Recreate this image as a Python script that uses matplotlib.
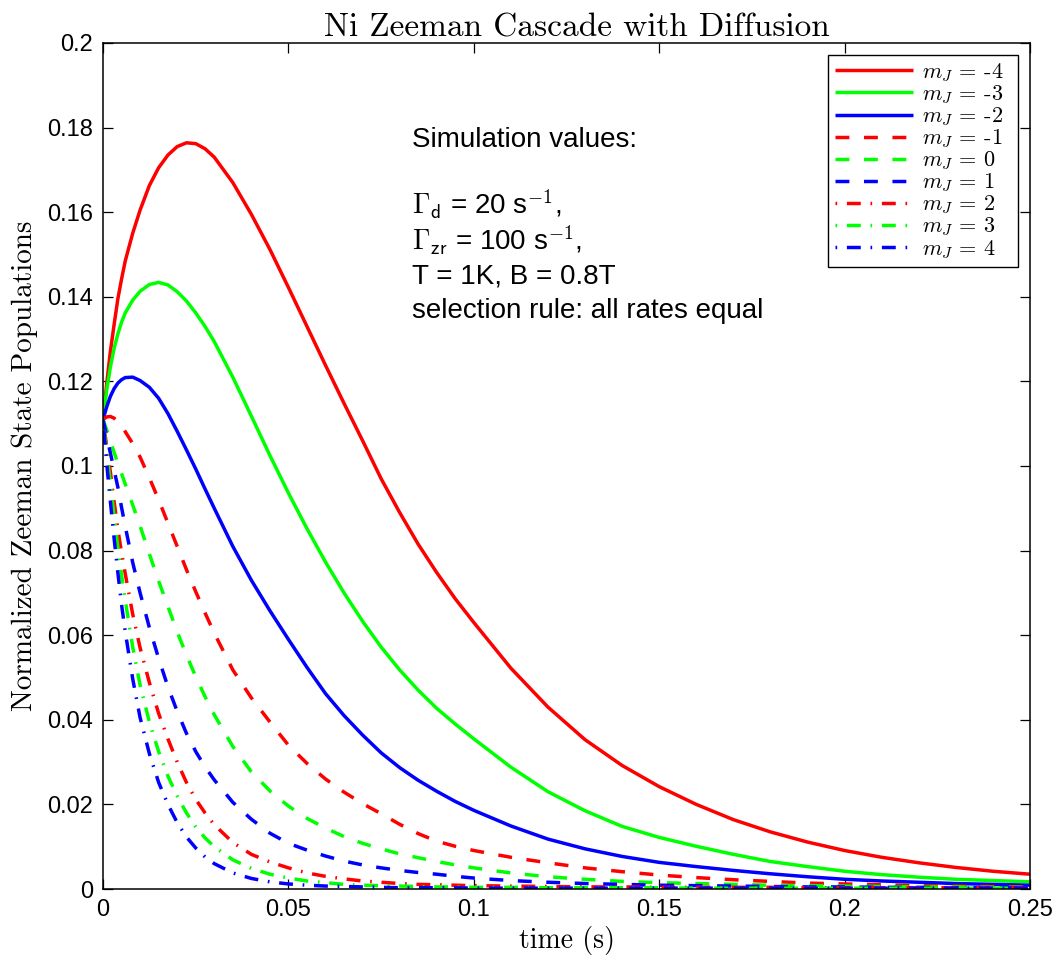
import numpy as np
import matplotlib
matplotlib.use('Agg')
import matplotlib.pyplot as plt
from matplotlib.ticker import FuncFormatter

plt.rcParams['mathtext.fontset'] = 'cm'
plt.rcParams['lines.scale_dashes'] = False

# time grid (s) and populations
t = [0, 0.001, 0.002, 0.003, 0.004, 0.005, 0.006, 0.008, 0.010, 0.0125,
     0.015, 0.0175, 0.020, 0.0225, 0.025, 0.0275, 0.030, 0.035, 0.040, 0.045,
     0.050, 0.055, 0.060, 0.065, 0.070, 0.075, 0.080, 0.085, 0.090, 0.095,
     0.100, 0.110, 0.120, 0.130, 0.140, 0.150, 0.160, 0.170, 0.180, 0.190,
     0.200, 0.210, 0.220, 0.230, 0.240, 0.250]

m_m4 = [0.1110, 0.1195, 0.1272, 0.1335, 0.1395, 0.1442, 0.1485, 0.1550, 0.1605, 0.1663,
        0.1705, 0.1735, 0.1755, 0.1764, 0.1762, 0.1750, 0.1730, 0.1670, 0.1595, 0.1512,
        0.1422, 0.1330, 0.1238, 0.1148, 0.1060, 0.0970, 0.0890, 0.0815, 0.0748, 0.0686,
        0.0630, 0.0522, 0.0430, 0.0353, 0.0292, 0.0242, 0.0200, 0.0164, 0.0135, 0.0111,
        0.0091, 0.0075, 0.0062, 0.0051, 0.0042, 0.0035]
m_m3 = [0.1110, 0.1180, 0.1235, 0.1278, 0.1312, 0.1340, 0.1362, 0.1392, 0.1413, 0.1429,
        0.1434, 0.1428, 0.1412, 0.1390, 0.1362, 0.1330, 0.1294, 0.1210, 0.1118, 0.1025,
        0.0936, 0.0852, 0.0773, 0.0700, 0.0633, 0.0572, 0.0518, 0.0470, 0.0427, 0.0390,
        0.0355, 0.0288, 0.0230, 0.0185, 0.0148, 0.0122, 0.0101, 0.0082, 0.0065, 0.0053,
        0.0042, 0.0034, 0.0028, 0.0023, 0.0020, 0.0017]
m_m2 = [0.1110, 0.1140, 0.1165, 0.1183, 0.1196, 0.1204, 0.1209, 0.1210, 0.1202, 0.1186,
        0.1160, 0.1124, 0.1082, 0.1038, 0.0993, 0.0946, 0.0900, 0.0810, 0.0730, 0.0658,
        0.0590, 0.0524, 0.0462, 0.0410, 0.0364, 0.0322, 0.0287, 0.0257, 0.0231, 0.0207,
        0.0186, 0.0149, 0.0118, 0.0095, 0.0077, 0.0063, 0.0053, 0.0044, 0.0036, 0.0029,
        0.0023, 0.0019, 0.0016, 0.0013, 0.0011, 0.0009]
m_m1 = [0.1110, 0.1116, 0.1117, 0.1113, 0.1105, 0.1094, 0.1081, 0.1053, 0.1021, 0.0972,
        0.0920, 0.0865, 0.0810, 0.0755, 0.0703, 0.0653, 0.0605, 0.0518, 0.0452, 0.0395,
        0.0340, 0.0297, 0.0260, 0.0229, 0.0202, 0.0178, 0.0153, 0.0131, 0.0113, 0.0101,
        0.0091, 0.0075, 0.0062, 0.0050, 0.0041, 0.0033, 0.0027, 0.0022, 0.0018, 0.0014,
        0.0012, 0.0010, 0.0008, 0.0007, 0.0006, 0.0005]
m_0 = [0.1110, 0.1085, 0.1058, 0.1032, 0.1006, 0.0982, 0.0957, 0.0908, 0.0858, 0.0792,
       0.0728, 0.0668, 0.0608, 0.0553, 0.0502, 0.0455, 0.0412, 0.0337, 0.0277, 0.0232,
       0.0196, 0.0167, 0.0144, 0.0124, 0.0108, 0.0095, 0.0083, 0.0074, 0.0065, 0.0057,
       0.0050, 0.0038, 0.0029, 0.0023, 0.0018, 0.0015, 0.0013, 0.0011, 0.0009, 0.0008,
       0.0007, 0.0006, 0.0005, 0.0005, 0.0004, 0.0004]
m_p1 = [0.1110, 0.1070, 0.1030, 0.0990, 0.0950, 0.0902, 0.0857, 0.0772, 0.0700, 0.0618,
        0.0545, 0.0478, 0.0420, 0.0368, 0.0325, 0.0289, 0.0258, 0.0205, 0.0165, 0.0132,
        0.0108, 0.0092, 0.0078, 0.0066, 0.0057, 0.0050, 0.0044, 0.0039, 0.0035, 0.0030,
        0.0026, 0.0020, 0.0016, 0.0013, 0.0011, 0.0009, 0.0008, 0.0007, 0.0006, 0.0005,
        0.0005, 0.0004, 0.0004, 0.0003, 0.0003, 0.0003]
m_p2 = [0.1110, 0.1045, 0.0985, 0.0915, 0.0850, 0.0795, 0.0745, 0.0650, 0.0570, 0.0488,
        0.0415, 0.0355, 0.0300, 0.0252, 0.0212, 0.0180, 0.0152, 0.0110, 0.0082, 0.0064,
        0.0050, 0.0038, 0.0030, 0.0024, 0.0019, 0.0016, 0.0013, 0.0011, 0.0010, 0.0009,
        0.0008, 0.0007, 0.0006, 0.0005, 0.0005, 0.0004, 0.0004, 0.0004, 0.0004, 0.0003,
        0.0003, 0.0003, 0.0003, 0.0003, 0.0003, 0.0003]
m_p3 = [0.1110, 0.1030, 0.0960, 0.0880, 0.0808, 0.0742, 0.0682, 0.0572, 0.0482, 0.0395,
        0.0325, 0.0267, 0.0220, 0.0180, 0.0147, 0.0121, 0.0100, 0.0069, 0.0049, 0.0035,
        0.0026, 0.0019, 0.0015, 0.0011, 0.0009, 0.0008, 0.0007, 0.0006, 0.0005, 0.0005,
        0.0004, 0.0004, 0.0003, 0.0003, 0.0003, 0.0003, 0.0002, 0.0002, 0.0002, 0.0002,
        0.0002, 0.0002, 0.0002, 0.0002, 0.0002, 0.0002]
m_p4 = [0.1110, 0.1005, 0.0915, 0.0828, 0.0748, 0.0672, 0.0608, 0.0497, 0.0405, 0.0320,
        0.0252, 0.0200, 0.0157, 0.0123, 0.0097, 0.0076, 0.0060, 0.0038, 0.0025, 0.0017,
        0.0012, 0.0009, 0.0007, 0.0006, 0.0005, 0.0004, 0.0003, 0.0003, 0.0003, 0.0003,
        0.0002, 0.0002, 0.0002, 0.0002, 0.0002, 0.0002, 0.0002, 0.0002, 0.0002, 0.0002,
        0.0002, 0.0002, 0.0002, 0.0002, 0.0002, 0.0002]

series = [m_m4, m_m3, m_m2, m_m1, m_0, m_p1, m_p2, m_p3, m_p4]
labels = ['-4', '-3', '-2', '-1', '0', '1', '2', '3', '4']
colors = ['#ff0000', '#00ff00', '#0000ff'] * 3
solid = (0, ())
dash = (0, (10, 10.5))
dashdot = (0, (1.2, 7, 10, 7))
styles = [solid] * 3 + [dash] * 3 + [dashdot] * 3

fig = plt.figure(figsize=(10.61, 9.61), dpi=100)
ax = fig.add_axes([0.0971, 0.0749, 0.8737, 0.8804])

for vals, lab, c, ls in zip(series, labels, colors, styles):
    ax.plot(t, vals, color=c, linestyle=ls, linewidth=2.5, label=r'$m_J$ = ' + lab + '  ')

ax.set_xlim(0, 0.25)
ax.set_ylim(0, 0.2)
ax.set_xticks(np.arange(0, 0.2501, 0.05))
ax.set_yticks(np.arange(0, 0.2001, 0.02))
fmt = FuncFormatter(lambda v, p: '%g' % round(v, 4))
ax.xaxis.set_major_formatter(fmt)
ax.yaxis.set_major_formatter(fmt)
ax.tick_params(direction='in', top=True, right=True, length=7, width=0.9,
               labelsize=17, pad=7)
for lbl in ax.get_xticklabels() + ax.get_yticklabels():
    lbl.set_fontfamily('Liberation Sans')
for s in ax.spines.values():
    s.set_linewidth(1.1)

ax.set_title('Ni Zeeman Cascade with Diffusion', fontfamily='cmr10', fontsize=24, pad=5, x=0.511)
ax.set_xlabel('time (s)', fontfamily='cmr10', fontsize=20, labelpad=4)
ax.set_ylabel('Normalized Zeeman State Populations', fontfamily='cmr10', fontsize=21, labelpad=7)

leg = ax.legend(loc='upper right', prop={'family': 'cmr10', 'size': 16},
                fancybox=False, edgecolor='black', framealpha=1,
                handlelength=3.5, handletextpad=0.4, labelspacing=0.0,
                borderaxespad=0.55, borderpad=0.3)
leg.get_frame().set_linewidth(1.0)

tx = 0.333
fs = 20
ax.text(tx, 0.877, 'Simulation values:', transform=ax.transAxes, fontsize=fs,
        fontfamily='Liberation Sans', va='baseline')
ax.text(tx, 0.797, r'$\Gamma_{\mathsf{d}}$ = 20 s$^{\mathsf{-1}}$,', transform=ax.transAxes,
        fontsize=fs, fontfamily='Liberation Sans', va='baseline')
ax.text(tx, 0.755, r'$\Gamma_{\mathsf{zr}}$ = 100 s$^{\mathsf{-1}}$,', transform=ax.transAxes,
        fontsize=fs, fontfamily='Liberation Sans', va='baseline')
ax.text(tx, 0.716, 'T = 1K, B = 0.8T', transform=ax.transAxes, fontsize=fs,
        fontfamily='Liberation Sans', va='baseline')
ax.text(tx, 0.675, 'selection rule: all rates equal', transform=ax.transAxes,
        fontsize=fs, fontfamily='Liberation Sans', va='baseline')

fig.savefig('out.png', dpi=100)
